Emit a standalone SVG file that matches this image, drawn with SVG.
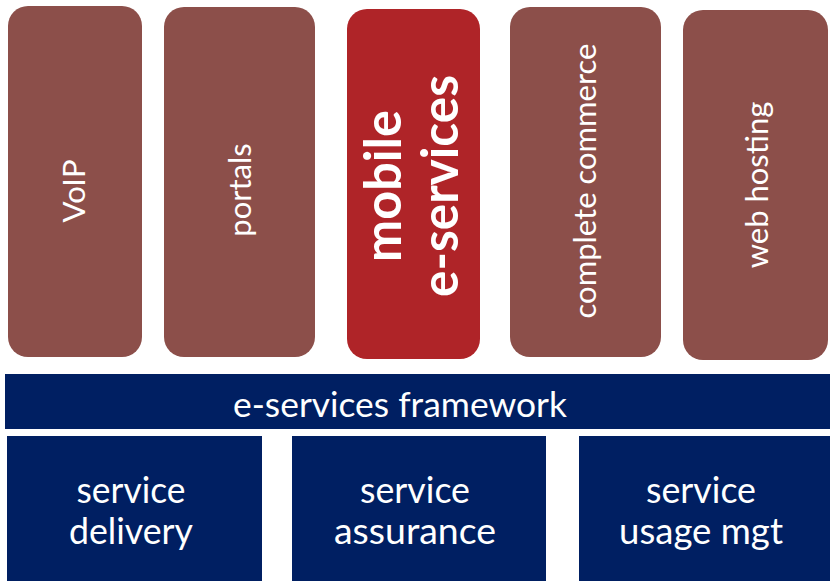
<svg xmlns="http://www.w3.org/2000/svg" width="830" height="581" viewBox="0 0 830 581">
  <style>
    .col { fill: #8C4F4A; }
    .hl { fill: #AF2428; }
    .navy { fill: #001F62; }
    text { fill: #FFFFFF; font-family: Lato, "Open Sans", "DejaVu Sans", sans-serif; text-anchor: middle; }
    .vt { font-size: 31px; }
    .bt { font-size: 52px; font-weight: bold; }
    .ht { font-size: 36px; }
    .ft { font-size: 34px; }
  </style>
  <rect width="830" height="581" fill="#FFFFFF"/>
  <g id="voip">
    <rect class="col" x="8" y="6" width="134" height="351" rx="20" ry="20"/>
    <text class="vt" transform="translate(85,191) rotate(-90)">VoIP</text>
  </g>
  <g id="portals">
    <rect class="col" x="164" y="7" width="151" height="350" rx="20" ry="20"/>
    <text class="vt" transform="translate(251,190) rotate(-90)">portals</text>
  </g>
  <g id="mobile-eservices">
    <rect class="hl" x="347" y="9" width="133" height="350" rx="20" ry="20"/>
    <text class="bt" transform="translate(401,186) rotate(-90)" textLength="152" lengthAdjust="spacingAndGlyphs">mobile</text>
    <text class="bt" transform="translate(458,186) rotate(-90)" textLength="222" lengthAdjust="spacingAndGlyphs">e-services</text>
  </g>
  <g id="complete-commerce">
    <rect class="col" x="510" y="7" width="151" height="350" rx="20" ry="20"/>
    <text class="vt" transform="translate(596,181) rotate(-90)">complete commerce</text>
  </g>
  <g id="web-hosting">
    <rect class="col" x="683" y="10" width="145" height="350" rx="20" ry="20"/>
    <text class="vt" transform="translate(768,185) rotate(-90)">web hosting</text>
  </g>
  <g id="framework">
    <rect class="navy" x="5" y="374" width="825" height="55"/>
    <text class="ft" x="400" y="417" textLength="334" lengthAdjust="spacingAndGlyphs">e-services framework</text>
  </g>
  <g id="service-delivery">
    <rect class="navy" x="7" y="436" width="255" height="145"/>
    <text class="ht" x="131" y="503" textLength="109" lengthAdjust="spacingAndGlyphs">service</text>
    <text class="ht" x="131" y="544" textLength="124" lengthAdjust="spacingAndGlyphs">delivery</text>
  </g>
  <g id="service-assurance">
    <rect class="navy" x="292" y="436" width="254" height="145"/>
    <text class="ht" x="415" y="503" textLength="110" lengthAdjust="spacingAndGlyphs">service</text>
    <text class="ht" x="415" y="544" textLength="162" lengthAdjust="spacingAndGlyphs">assurance</text>
  </g>
  <g id="service-usage">
    <rect class="navy" x="579" y="436" width="251" height="145"/>
    <text class="ht" x="701" y="503" textLength="110" lengthAdjust="spacingAndGlyphs">service</text>
    <text class="ht" x="701" y="544" textLength="164" lengthAdjust="spacingAndGlyphs">usage mgt</text>
  </g>
  <g id="connectors"></g>
</svg>
